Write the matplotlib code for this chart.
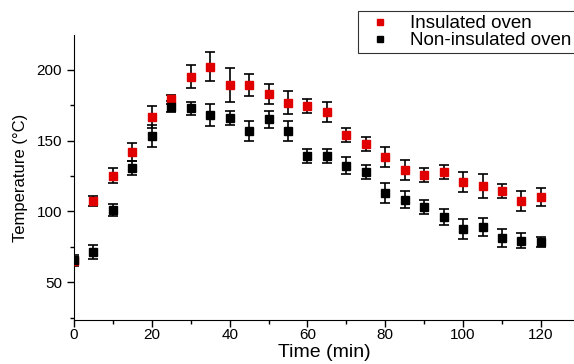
import matplotlib
matplotlib.use("Agg")
import matplotlib.pyplot as plt
from matplotlib.ticker import MultipleLocator
from matplotlib.lines import Line2D

plt.rcParams['font.family'] = ['Liberation Sans', 'DejaVu Sans']

# time in minutes
time = [0, 5, 10, 15, 20, 25, 30, 35, 40, 45, 50, 55, 60,
        65, 70, 75, 80, 85, 90, 95, 100, 105, 110, 115, 120]

# insulated oven
ins_temp = [64.7, 107.4, 125.3, 141.8, 166.5, 179.2, 195.2, 202.3, 189.3, 189.3, 182.8, 176.8, 174.7,
            170.0, 154.0, 147.7, 138.7, 129.3, 125.8, 128.1, 120.6, 118.0, 114.5, 107.6, 110.5]
ins_err = [3, 3.3, 5.4, 6.5, 7.7, 3, 8, 10, 12, 8, 7, 8, 5,
           7, 5, 5, 7, 7, 5, 5, 7, 8.5, 5, 7, 6.4]

# non-insulated oven
non_temp = [66.0, 71.2, 101.0, 130.5, 153.3, 174.0, 172.9, 168.1, 165.8, 157.0, 165.1, 157.0, 139.2,
            139.2, 132.4, 127.7, 113.3, 108.1, 103.4, 95.9, 87.6, 88.8, 81.0, 79.4, 78.7]
non_err = [3, 5, 4, 5, 8, 4, 4.7, 8, 5, 7, 6, 7, 5,
           5, 6, 5, 7, 6, 5, 5.5, 7, 6.4, 6.4, 5.4, 3.5]

fig = plt.figure(figsize=(5.74, 3.64), dpi=100)
ax = fig.add_axes([0.129, 0.121, 0.871, 0.783])

ax.errorbar(time, ins_temp, yerr=ins_err, fmt='s', color='#e00000', ecolor='black',
            markersize=5.5, capsize=3.5, elinewidth=1.2, capthick=1.2, zorder=3)
ax.errorbar(time, non_temp, yerr=non_err, fmt='s', color='black', ecolor='black',
            markersize=5.5, capsize=3.5, elinewidth=1.2, capthick=1.2, zorder=3)

ax.set_xlim(0, 128.5)
ax.set_ylim(23.4, 224.6)
ax.xaxis.set_major_locator(MultipleLocator(20))
ax.xaxis.set_minor_locator(MultipleLocator(10))
ax.yaxis.set_major_locator(MultipleLocator(50))
ax.yaxis.set_minor_locator(MultipleLocator(25))
ax.tick_params(which='major', direction='out', length=5, width=1, labelsize=11)
ax.tick_params(axis='x', which='major', pad=1)
ax.tick_params(which='minor', direction='out', length=3, width=1)
ax.spines['top'].set_visible(False)
ax.spines['right'].set_visible(False)

ax.set_xlabel('Time (min)', fontsize=14, labelpad=1)
ax.set_ylabel('Temperature (°C)', fontsize=12, labelpad=6)

handles = [Line2D([], [], marker='s', color='#e00000', linestyle='none', markersize=5),
           Line2D([], [], marker='s', color='black', linestyle='none', markersize=5)]
leg = fig.legend(handles, ['Insulated oven', 'Non-insulated oven'], loc='upper left',
                 bbox_to_anchor=(0.607, 0.995), fontsize=13.5, frameon=True, fancybox=False,
                 handletextpad=0.6, labelspacing=0.0, borderpad=0.2, handlelength=2)
leg.get_frame().set_edgecolor('black')
leg.get_frame().set_linewidth(0.8)

fig.savefig('out.png', dpi=100)
